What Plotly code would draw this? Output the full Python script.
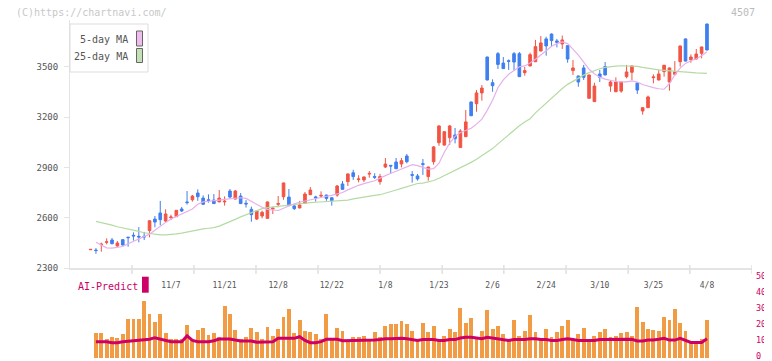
import plotly.graph_objects as go

# ---------------- data ----------------
OPEN = [2409, 2407, 2439, 2453, 2467, 2431, 2469, 2484, 2495, 2489,
        2489, 2523, 2592, 2628, 2580, 2600, 2606, 2652, 2694, 2707,
        2747, 2717, 2707, 2705, 2694, 2694, 2759, 2711, 2729, 2686,
        2650, 2592, 2610, 2596, 2652, 2680, 2725, 2723, 2670, 2658,
        2686, 2737, 2724, 2729, 2735, 2719, 2735, 2801, 2815, 2868,
        2827, 2825, 2860, 2845, 2815, 2902, 2912, 2932, 2920, 2968,
        2857, 2849, 2922, 2845, 2934, 3047, 3033, 3077, 3093, 3018,
        3083, 3290, 3280, 3344, 3558, 3405, 3578, 3522, 3536, 3578,
        3578, 3465, 3505, 3530, 3594, 3666, 3695, 3654, 3636, 3626,
        3477, 3445, 3493, 3312, 3292, 3457, 3501, 3385, 3351, 3355,
        3441, 3467, 3403, 3236, 3256, 3435, 3421, 3471, 3409, 3455,
        3530, 3666, 3542, 3546, 3580, 3755]
HIGH = [2412, 2419, 2451, 2477, 2479, 2461, 2471, 2485, 2513, 2544,
        2515, 2584, 2610, 2700, 2650, 2618, 2646, 2664, 2759, 2735,
        2769, 2733, 2739, 2741, 2765, 2727, 2771, 2765, 2747, 2705,
        2666, 2640, 2642, 2696, 2666, 2729, 2809, 2771, 2676, 2700,
        2753, 2783, 2731, 2757, 2737, 2721, 2795, 2819, 2863, 2886,
        2853, 2845, 2878, 2865, 2861, 2956, 2913, 2956, 2956, 2980,
        2878, 2861, 2950, 2904, 3027, 3151, 3115, 3153, 3135, 3127,
        3242, 3292, 3361, 3391, 3560, 3425, 3588, 3558, 3544, 3588,
        3588, 3499, 3584, 3660, 3683, 3679, 3699, 3666, 3686, 3628,
        3540, 3447, 3511, 3453, 3405, 3481, 3528, 3419, 3437, 3411,
        3511, 3507, 3405, 3258, 3328, 3455, 3481, 3511, 3495, 3534,
        3626, 3668, 3574, 3606, 3620, 3757]
LOW = [2409, 2385, 2397, 2441, 2441, 2427, 2435, 2427, 2463, 2453,
       2467, 2483, 2543, 2554, 2574, 2586, 2604, 2634, 2678, 2696,
       2701, 2676, 2690, 2682, 2694, 2672, 2715, 2709, 2682, 2660,
       2576, 2586, 2596, 2592, 2622, 2662, 2707, 2670, 2646, 2656,
       2682, 2735, 2696, 2719, 2701, 2672, 2725, 2767, 2789, 2825,
       2811, 2813, 2839, 2831, 2797, 2896, 2861, 2890, 2900, 2924,
       2809, 2821, 2855, 2821, 2916, 3029, 3031, 3033, 3043, 3016,
       3081, 3206, 3232, 3298, 3419, 3351, 3487, 3487, 3481, 3477,
       3439, 3447, 3503, 3528, 3592, 3566, 3620, 3616, 3606, 3524,
       3451, 3381, 3421, 3310, 3290, 3409, 3449, 3351, 3349, 3345,
       3431, 3421, 3338, 3214, 3254, 3401, 3419, 3441, 3357, 3447,
       3501, 3532, 3524, 3544, 3550, 3598]
CLOSE = [2411, 2404, 2442, 2456, 2445, 2449, 2437, 2481, 2491, 2485,
         2485, 2582, 2574, 2588, 2622, 2604, 2644, 2640, 2690, 2729,
         2725, 2680, 2703, 2684, 2717, 2698, 2723, 2759, 2684, 2682,
         2618, 2640, 2632, 2694, 2656, 2684, 2807, 2672, 2654, 2676,
         2741, 2765, 2718, 2733, 2715, 2701, 2789, 2769, 2861, 2845,
         2831, 2843, 2864, 2841, 2845, 2920, 2908, 2892, 2940, 2934,
         2853, 2831, 2918, 2902, 3022, 3147, 3113, 3147, 3071, 3117,
         3171, 3208, 3344, 3373, 3421, 3387, 3514, 3489, 3532, 3528,
         3441, 3477, 3572, 3620, 3642, 3624, 3656, 3646, 3660, 3546,
         3493, 3409, 3437, 3451, 3385, 3437, 3451, 3409, 3409, 3409,
         3469, 3505, 3361, 3256, 3320, 3439, 3457, 3509, 3493, 3469,
         3624, 3534, 3558, 3576, 3618, 3600]

# moving averages (start at the 2nd candle)
MA5 = [2453, 2435, 2420, 2418, 2422, 2428, 2445, 2460, 2475, 2490,
       2502, 2525, 2550, 2572, 2592, 2606, 2622, 2638, 2652, 2680,
       2694, 2698, 2700, 2705, 2709, 2712, 2716, 2719, 2715, 2698,
       2678, 2662, 2650, 2645, 2643, 2656, 2672, 2683, 2692, 2700,
       2708, 2715, 2722, 2728, 2733, 2740, 2750, 2766, 2780, 2793,
       2803, 2812, 2820, 2836, 2853, 2865, 2877, 2890, 2904, 2916,
       2910, 2898, 2890, 2892, 2925, 2990, 3045, 3085, 3108, 3120,
       3133, 3158, 3188, 3240, 3300, 3375, 3422, 3455, 3480, 3500,
       3505, 3522, 3545, 3568, 3595, 3622, 3638, 3648, 3638, 3605,
       3570, 3528, 3485, 3458, 3438, 3426, 3418, 3412, 3410, 3410,
       3416, 3408, 3394, 3384, 3376, 3369, 3366, 3400, 3452, 3492,
       3520, 3536, 3548, 3566, 3590]
MA25 = [2578, 2572, 2566, 2556, 2546, 2540, 2533, 2526, 2518, 2510,
        2505, 2500, 2497, 2497, 2498, 2503, 2508, 2515, 2522, 2528,
        2533, 2537, 2541, 2550, 2562, 2575, 2590, 2605, 2618, 2632,
        2645, 2654, 2660, 2664, 2668, 2673, 2677, 2680, 2684, 2687,
        2690, 2692, 2694, 2695, 2696, 2697, 2699, 2705, 2712, 2718,
        2724, 2729, 2733, 2737, 2745, 2755, 2765, 2775, 2785, 2798,
        2804, 2806, 2812, 2822, 2835, 2850, 2865, 2880, 2897, 2914,
        2930, 2948, 2968, 2990, 3012, 3040, 3068, 3095, 3120, 3148,
        3170, 3190, 3225, 3255, 3285, 3315, 3345, 3370, 3395, 3415,
        3432, 3450, 3465, 3478, 3488, 3496, 3501, 3504, 3506, 3506,
        3505, 3502, 3496, 3490, 3485, 3481, 3478, 3475, 3472, 3470,
        3467, 3465, 3463, 3462, 3461]

# AI-Predict panel (starts at the 2nd candle)
AI_BARS = [15.8, 15.8, 11.9, 13.1, 12.5, 15.0, 24.4, 24.4, 24.4, 35.6,
           27.7, 22.5, 27.7, 15.8, 11.9, 11.9, 11.9, 20.6, 11.9, 17.5,
           18.8, 14.4, 15.8, 13.3, 32.7, 27.7, 17.5, 11.9, 13.1, 18.8,
           16.3, 11.9, 19.4, 13.8, 18.1, 25.6, 30.6, 15.8, 23.8, 16.9,
           16.3, 15.0, 11.9, 27.7, 11.9, 18.8, 16.9, 11.3, 13.1, 13.1,
           14.0, 12.0, 16.0, 13.0, 20.0, 21.0, 21.0, 23.0, 21.0, 17.0,
           12.0, 22.0, 16.0, 20.0, 12.0, 14.0, 18.0, 16.0, 31.0, 22.0,
           25.0, 13.0, 17.0, 30.0, 18.0, 20.0, 15.0, 12.0, 24.0, 14.0,
           17.0, 27.0, 16.0, 12.0, 18.0, 13.0, 16.0, 20.0, 24.0, 12.0,
           15.0, 19.0, 12.0, 14.0, 16.0, 18.0, 13.0, 14.0, 15.8, 16.5,
           13.8, 31.9, 22.5, 18.1, 17.5, 16.9, 25.6, 23.8, 30.6, 21.9,
           16.9, 9.4, 9.4, 11.9, 23.8]
AI_LINE = [10.2, 10.2, 10.2, 9.6, 9.6, 10.2, 10.5, 10.8, 11.0, 11.7,
           11.7, 12.7, 11.9, 11.0, 10.2, 10.2, 10.2, 13.8, 11.0, 10.2,
           10.2, 10.2, 10.8, 11.9, 11.9, 11.9, 11.2, 10.6, 10.6, 10.6,
           9.8, 9.8, 9.8, 10.2, 12.3, 12.3, 12.3, 12.3, 13.3, 11.0,
           9.6, 9.6, 10.2, 11.7, 11.7, 11.7, 10.8, 10.8, 10.8, 10.8,
           11.0, 11.0, 11.2, 11.5, 12.0, 12.0, 12.3, 12.3, 12.0, 11.5,
           11.0, 11.5, 11.5, 11.5, 11.0, 11.0, 11.5, 11.5, 12.5, 13.0,
           13.0, 12.5, 12.0, 13.0, 12.5, 12.0, 11.5, 11.0, 11.5, 11.5,
           11.5, 12.0, 12.0, 11.5, 11.5, 11.0, 11.0, 11.5, 12.0, 11.5,
           11.0, 11.0, 11.0, 11.0, 11.5, 11.5, 11.5, 11.5, 11.7, 11.7,
           11.7, 10.6, 10.6, 11.2, 11.2, 11.7, 12.3, 11.2, 11.2, 12.3,
           11.2, 9.7, 9.7, 9.7, 12.0]

TICK_POS = [15, 25, 35, 45, 55, 65, 75, 85, 95, 105, 115]
TICK_TEXT = ["11/7", "11/21", "12/8", "12/22", "1/8", "1/23",
             "2/6", "2/24", "3/10", "3/25", "4/8"]
GRID_MARKS = [7.72, 19.29, 30.86, 42.43, 54.0, 65.6, 77.1, 88.7, 100.3, 111.8, 123.4]
Y_TICKS = [2300, 2600, 2900, 3200, 3500]
AI_TICKS = [0, 10, 20, 30, 40, 50]

# ---------------- figure ----------------
RED = "#f25444"
BLUE = "#3f7fef"
MONO = "DejaVu Sans Mono"
X = list(range(len(OPEN)))
X1 = X[1:]

fig = go.Figure()
fig.add_trace(go.Scatter(x=X1, y=MA25, mode="lines", line=dict(color="#b4dba3", width=1.2),
                         hoverinfo="skip", showlegend=False))
fig.add_trace(go.Scatter(x=X1, y=MA5, mode="lines", line=dict(color="#e6b0ea", width=1.2),
                         hoverinfo="skip", showlegend=False))
fig.add_trace(go.Candlestick(
    x=X, open=OPEN, high=HIGH, low=LOW, close=CLOSE,
    increasing=dict(line=dict(color=RED, width=1), fillcolor=RED),
    decreasing=dict(line=dict(color=BLUE, width=1), fillcolor=BLUE),
    whiskerwidth=0, showlegend=False, xaxis="x", yaxis="y"))
fig.add_trace(go.Bar(x=X1, y=AI_BARS, marker=dict(color="#f29b45", line=dict(width=0)),
                     width=0.72, xaxis="x2", yaxis="y2", showlegend=False))
fig.add_trace(go.Scatter(x=X1, y=AI_LINE, mode="lines", line=dict(color="#cc0066", width=3),
                         xaxis="x2", yaxis="y2", showlegend=False))

# The page body has an 8px margin, so the figure is shifted by OFF in the window.
OFF = 8
WIN_W, WIN_H = 772, 361
PL, PR, PT, PB = 70, 752, 20, 358          # plot area, in window pixels
W, H = WIN_W - OFF, WIN_H - OFF
L, R, T, B = PL - OFF, W - (PR - OFF), PT - OFF, H - (PB - OFF)
PW, PH = PR - PL, PB - PT


def px(xp):
    return (xp - PL) / PW


def py(yp):
    return (PB - yp) / PH


XR = [-3.84, 123.4]
fig.update_layout(
    template="none",
    width=W, height=H,
    margin=dict(l=L, r=R, t=T, b=B, pad=0),
    paper_bgcolor="white", plot_bgcolor="white",
    showlegend=False, bargap=0,
    xaxis=dict(domain=[0, 1], range=XR, anchor="y", showline=True, linecolor="#e4e4e4",
               linewidth=2, showgrid=False, zeroline=False, tickmode="array",
               tickvals=TICK_POS, ticktext=TICK_TEXT, ticks="outside", ticklen=8,
               tickcolor="rgba(0,0,0,0)", tickfont=dict(family=MONO, size=8, color="#555555"),
               rangeslider=dict(visible=False), automargin=False, fixedrange=True),
    yaxis=dict(domain=[py(268), 1], range=[2300, 2300 + (268 - PT) * 5.963], anchor="x",
               showline=True, linecolor="#e4e4e4", linewidth=1, ticks="outside", ticklen=5,
               tickcolor="#e4e4e4", tickmode="array", tickvals=Y_TICKS,
               tickfont=dict(family=MONO, size=9, color="#555555"), showgrid=False,
               zeroline=False, ticklabelstandoff=4, automargin=False),
    xaxis2=dict(domain=[0, 1], range=XR, anchor="y2", matches="x", visible=False),
    yaxis2=dict(domain=[0, py(278)], range=[0, 50], anchor="x2", side="right",
                tickmode="array", tickvals=AI_TICKS, ticks="", showline=False,
                showgrid=False, zeroline=False, ticklabeloverflow="allow",
                ticklabelshift=-2,
                tickfont=dict(family=MONO, size=8.5, color="#cc0066"),
                ticklabelstandoff=3, automargin=False),
)

shapes = []
for g in GRID_MARKS:
    shapes.append(dict(type="line", xref="x", yref="paper", x0=g, x1=g,
                       y0=py(274), y1=py(265), line=dict(color="#e0e0e0", width=1.5)))
# legend box
shapes.append(dict(type="rect", xref="paper", yref="paper", x0=px(70), x1=px(148),
                   y0=py(72), y1=py(24), line=dict(color="#dddddd", width=1),
                   fillcolor="white", layer="above"))
shapes.append(dict(type="rect", xref="paper", yref="paper", x0=px(136.5), x1=px(142.5),
                   y0=py(46), y1=py(31), line=dict(color="#666666", width=1),
                   fillcolor="#f0bcf0", layer="above"))
shapes.append(dict(type="rect", xref="paper", yref="paper", x0=px(136.5), x1=px(142.5),
                   y0=py(62.5), y1=py(48.5), line=dict(color="#666666", width=1),
                   fillcolor="#c2e2b4", layer="above"))
# AI-Predict marker
shapes.append(dict(type="rect", xref="paper", yref="paper", x0=px(142), x1=px(148.7),
                   y0=py(292.7), y1=py(276.7), line=dict(width=0), fillcolor="#cc0066"))
fig.update_layout(shapes=shapes)

ann = [
    dict(text="(C)https://chartnavi.com/", x=px(14), y=py(12), xanchor="left",
         yanchor="middle", font=dict(family=MONO, size=10, color="#c8c8c8")),
    dict(text="4507", x=px(757), y=py(12), xanchor="right", yanchor="middle",
         font=dict(family=MONO, size=10, color="#bbbbbb")),
    dict(text="5-day MA", x=px(130), y=py(40), xanchor="right", yanchor="middle",
         font=dict(family=MONO, size=10, color="#555555")),
    dict(text="25-day MA", x=px(130), y=py(56.5), xanchor="right", yanchor="middle",
         font=dict(family=MONO, size=10, color="#555555")),
    dict(text="AI-Predict", x=px(76), y=py(286), xanchor="left", yanchor="middle",
         font=dict(family=MONO, size=10, color="#cc0066")),
]
for a in ann:
    a.update(xref="paper", yref="paper", showarrow=False)
fig.update_layout(annotations=ann)

fig.write_html("out.html")
